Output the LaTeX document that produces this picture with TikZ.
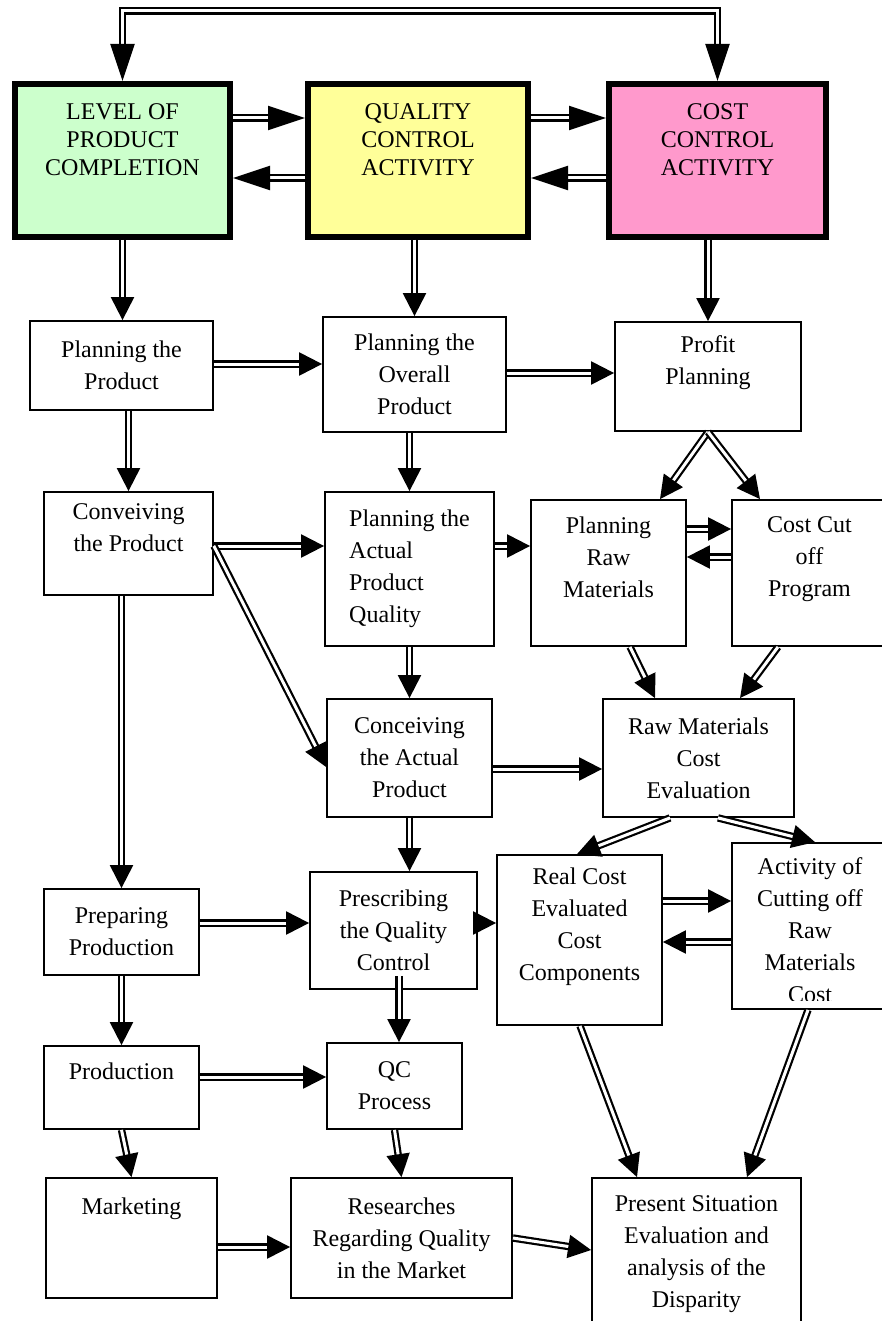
\documentclass[tikz,border=0pt]{standalone}
\usepackage{fontspec}
\setmainfont{Liberation Serif}
\usetikzlibrary{arrows.meta}
\definecolor{lvlgreen}{HTML}{CCFFCC}
\definecolor{qcyellow}{HTML}{FFFF99}
\definecolor{ccpink}{HTML}{FF99CC}
\tikzset{
	head/.style    = {draw, line width=6pt, minimum height=153pt, align=center,
		inner sep=4pt, font=\fontsize{24}{28}\selectfont},
	block/.style   = {draw, line width=1.8pt, align=center, inner sep=4pt,
		font=\fontsize{24}{32}\selectfont},
	link/.style    = {double, double distance=3pt, line width=2.2pt,
		-{Triangle[length=23pt,width=23pt]}}, % small head
	biglink/.style = {double, double distance=3pt, line width=2.2pt,
		-{Triangle[length=37pt,width=24pt]}} % head of the top row
}

\begin{document}
\begin{tikzpicture}[x=1pt, y=-1pt]
	\useasboundingbox (0,0) rectangle (881,1321);
	\draw
	node at (122.5,160.5)[head, fill=lvlgreen, minimum width=215pt] (lvl) {LEVEL OF\\PRODUCT\\COMPLETION\\[14pt]~}
	node at (418,160.5)[head, fill=qcyellow, minimum width=220pt] (qca) {QUALITY\\CONTROL\\ACTIVITY\\[14pt]~}
	node at (717.5,160.5)[head, fill=ccpink, minimum width=217pt] (cca) {COST\\CONTROL\\ACTIVITY\\[14pt]~}
	node at (121.5,365.5)[block, minimum width=183pt, minimum height=89pt] (plp) {Planning the\\Product}
	node at (414.5,374.5)[block, minimum width=183pt, minimum height=115pt] (plo) {Planning the\\Overall\\Product}
	node at (708,376.5)[block, minimum width=186pt, minimum height=109pt] (prf) {Profit\\Planning\\~}
	node at (128.5,543.5)[block, minimum width=169pt, minimum height=103pt] (cvp) {Conveiving\\the Product\\~}
	node at (409.5,569)[block, align=left, minimum width=169pt, minimum height=154pt] (pla) {Planning the\\Actual\\Product\\Quality}
	node at (608.5,573)[block, minimum width=155pt, minimum height=146pt] (prm) {Planning\\Raw\\Materials\\~}
	node at (809.5,573)[block, minimum width=155pt, minimum height=146pt] (ccp) {Cost Cut\\off\\Program\\~}
	node at (409.5,758)[block, minimum width=165pt, minimum height=118pt] (cap) {Conceiving\\the Actual\\Product}
	node at (698.5,758)[block, minimum width=191pt, minimum height=118pt] (rme) {Raw Materials\\Cost\\Evaluation}
	node at (121.5,932)[block, minimum width=155pt, minimum height=86pt] (ppr) {Preparing\\Production}
	node at (393.5,930.5)[block, minimum width=167pt, minimum height=117pt] (pqc) {Prescribing\\the Quality\\Control}
	node at (579.5,940)[block, minimum width=165pt, minimum height=170pt] (rce) {Real Cost\\Evaluated\\Cost\\Components\\~}
	node at (810,926)[block, minimum width=156pt, minimum height=166pt] (acr) {}
	node at (121.5,1087.5)[block, minimum width=155pt, minimum height=83pt] (prd) {Production\\~}
	node at (394.5,1086)[block, minimum width=135pt, minimum height=86pt] (qcp) {QC\\Process}
	node at (131.5,1238)[block, minimum width=171pt, minimum height=120pt] (mkt) {Marketing\\~\\~}
	node at (401.5,1238)[block, minimum width=221pt, minimum height=120pt] (rqm) {Researches\\Regarding Quality\\in the Market}
	node at (696.5,1254)[block, minimum width=209pt, minimum height=152pt] (psa) {Present Situation\\Evaluation and\\analysis of the\\Disparity};
	
	% text of the cut-off box
	\begin{scope}
	\clip (acr.north west) rectangle ([yshift=9pt]acr.south east);
	\node[align=center, anchor=north, inner sep=0pt, font=\fontsize{24}{32}\selectfont] (acrtxt) at ([yshift=-15.5pt]acr.north) {Activity of\\Cutting off\\Raw\\Materials\\Cost};
	\end{scope}
	
	% top row
	\draw[biglink, {Triangle[length=37pt,width=24pt]}-{Triangle[length=37pt,width=24pt]}] (lvl.north) -- ++(0,-70) -| (cca.north);
	\draw[biglink](lvl.east |- 0,118) -- (qca.west |- 0,118);
	\draw[biglink](qca.west |- 0,178) -- (lvl.east |- 0,178);
	\draw[biglink](qca.east |- 0,118) -- (cca.west |- 0,118);
	\draw[biglink](cca.west |- 0,178) -- (qca.east |- 0,178);
	\draw[link](lvl.south |- 0,240) -- (lvl.south |- plp.north);
	\draw[link](qca.south -| plo.north) -- (plo.north);
	\draw[link](cca.south -| prf.north) -- (prf.north);
	
	\draw[link](plp.east |- 0,364) -- (plo.west |- 0,364);
	\draw[link](plo.east |- 0,373) -- (prf.west |- 0,373);
	\draw[link](plp.south -| cvp.north) -- (cvp.north);
	\draw[link](plo.south -| pla.north) -- (pla.north);
	\draw[link](prf.south) -- (prm.north -| 660,0);
	\draw[link](prf.south) -- (ccp.north -| 760,0);
	
	\draw[link](cvp.east |- 0,546) -- (pla.west |- 0,546);
	\draw[link](cvp.east |- 0,546) -- (cap.west |- 0,767);
	\draw[link](pla.east |- 0,546) -- (prm.west |- 0,546);
	\draw[link](prm.east |- 0,529) -- (ccp.west |- 0,529);
	\draw[link](ccp.west |- 0,557) -- (prm.east |- 0,557);
	\draw[link](cvp.south -| ppr.north) -- (ppr.north);
	\draw[link](pla.south -| cap.north) -- (cap.north);
	\draw[link](prm.south -| 630,0) -- (rme.north -| 655,0);
	\draw[link](ccp.south -| 778,0) -- (rme.north -| 740,0);
	
	\draw[link](cap.east |- 0,769) -- (rme.west |- 0,769);
	\draw[link](cap.south) -- (cap.south |- pqc.north);
	\draw[link](rme.south -| 670,0) -- (rce.north -| 577,0);
	\draw[link](rme.south -| 718,0) -- (acr.north -| 815,0);
	
	\draw[link](ppr.east |- 0,923) -- (pqc.west |- 0,923);
	\draw[link](pqc.east |- 0,923) -- (rce.west |- 0,923);
	\draw[link](rce.east |- 0,901) -- (acr.west |- 0,901);
	\draw[link](acr.west |- 0,942) -- (rce.east |- 0,942);
	\draw[link](ppr.south) -- (prd.north);
	\draw[link]([yshift=14pt]pqc.south -| 399,0) -- (qcp.north -| 399,0);
	\draw[link](rce.south -| 580,0) -- (psa.north -| 637,0);
	\draw[link](acr.south -| 808,0) -- (psa.north -| 747,0);
	
	\draw[link](prd.east |- 0,1077) -- (qcp.west |- 0,1077);
	\draw[link](prd.south) -- (mkt.north);
	\draw[link](qcp.south) -- (rqm.north);
	\draw[link](mkt.east |- 0,1247) -- (rqm.west |- 0,1247);
	\draw[link](rqm.east |- 0,1238) -- (psa.west |- 0,1250);
\end{tikzpicture}
\end{document}
